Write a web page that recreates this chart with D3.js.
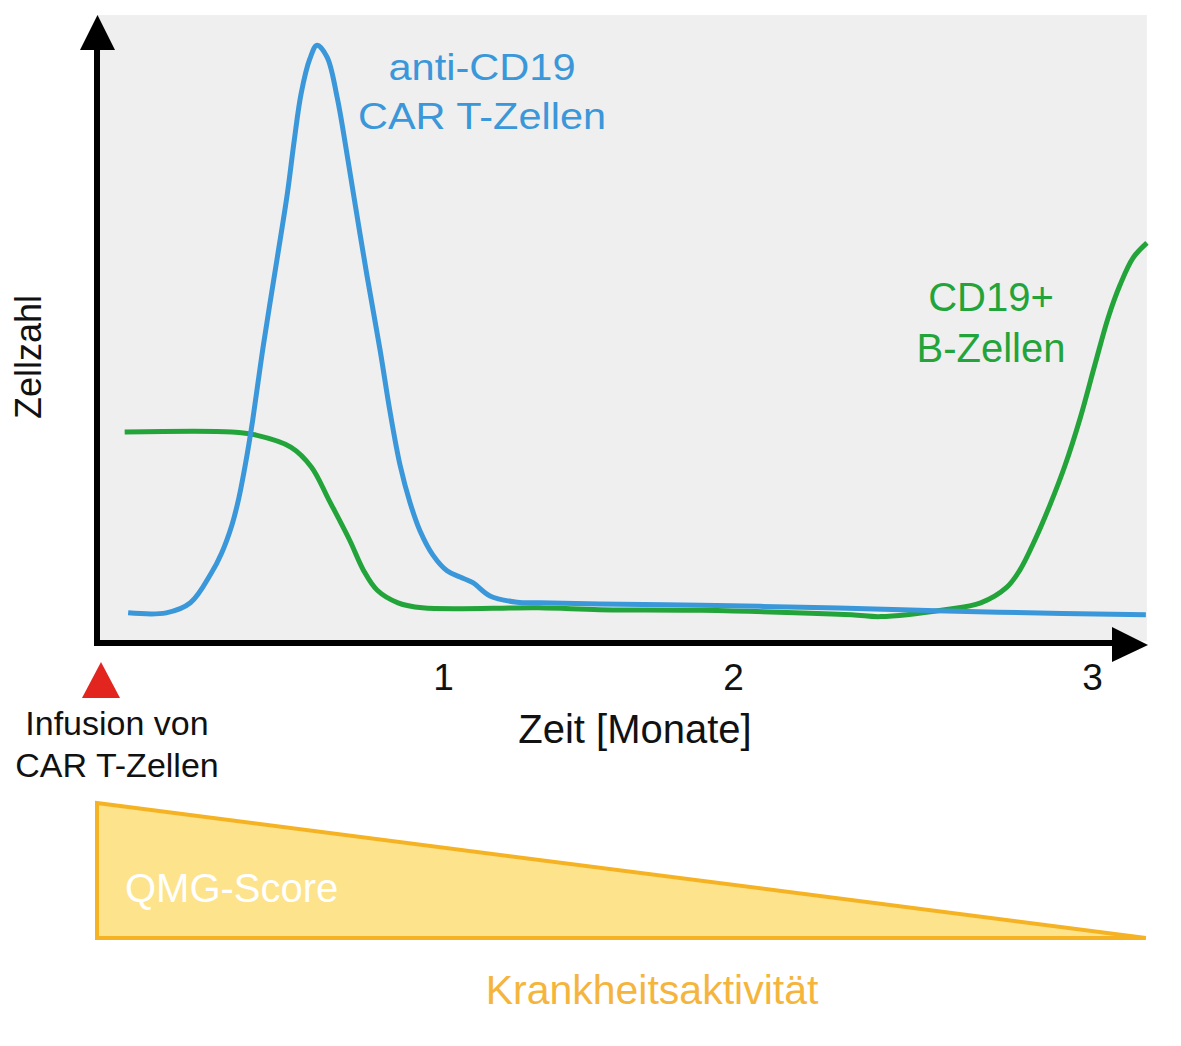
<!DOCTYPE html>
<html>
<head>
<meta charset="utf-8">
<script src="https://cdn.jsdelivr.net/npm/d3@7"></script>
<style>
  body { margin: 0; background: #fff; }
  text { font-family: "Liberation Sans", Arial, sans-serif; }
</style>
</head>
<body>
<div id="chart"></div>
<script>
// time (months) and relative cell counts
const carT_months = [0.09, 0.20, 0.27, 0.33, 0.36, 0.39, 0.41, 0.43, 0.45, 0.48, 0.52, 0.55, 0.57, 0.59, 0.615, 0.636,
                     0.665, 0.694, 0.723, 0.751, 0.78, 0.818, 0.847, 0.876, 0.905, 0.934, 0.971, 1.014, 1.059,
                     1.103, 1.162, 1.255, 1.334, 1.54, 1.89, 2.19, 2.47, 2.74, 3.15];
const carT_values = [4.8, 4.8, 6.4, 11.1, 14.3, 18.8, 23.1, 28.8, 35.5, 47.1, 61.0, 71.5, 80.0, 87.5, 93.0, 95.2,
                     93.3, 86.9, 77.7, 68.2, 58.6, 46.7, 36.8, 28.3, 22.3, 17.8, 14.0, 11.5, 10.5,
                     9.6, 7.5, 6.5, 6.4, 6.2, 6.0, 5.7, 5.3, 4.9, 4.5];

const bCell_months = [0.08, 0.39, 0.46, 0.56, 0.62, 0.67, 0.73, 0.77, 0.81, 0.87, 0.94, 1.33, 1.54, 1.89,
                      2.33, 2.41, 2.59, 2.69, 2.763, 2.799, 2.841, 2.883, 2.925, 2.967, 3.008, 3.045,
                      3.078, 3.114, 3.153];
const bCell_values = [33.6, 33.6, 33.1, 31.2, 28.0, 22.8, 16.4, 11.6, 8.4, 6.4, 5.6, 5.6, 5.3, 5.2,
                      4.5, 4.2, 5.3, 6.4, 8.9, 11.6, 16.4, 22.0, 28.3, 35.8, 44.3, 51.8,
                      57.0, 61.3, 63.7];

const monthTicks = [1, 2, 3];
const seriesLabels = {
  carT: ["anti-CD19", "CAR T-Zellen"],
  bCell: ["CD19+", "B-Zellen"]
};
const infusionLabel = ["Infusion von", "CAR T-Zellen"];
const xTitle = "Zeit [Monate]";
const yTitle = "Zellzahl";
const scoreLabel = "QMG-Score";
const activityLabel = "Krankheitsaktivität";
// QMG score falls from full to nothing over the time span
const score_months = [0, 3.15];
const score_values = [100, 0];

function main() {
    const width = 1181, height = 1046;
    const blue = "#3a97d9", green = "#23a43a";

    const svg = d3.select("#chart")
        .append("svg")
        .attr("width", width)
        .attr("height", height);

    // the month labels are not evenly spaced in the figure
    const x = d3.scaleLinear()
        .domain([0, 1, 2, 3])
        .range([97, 443, 733, 1092]);

    const y = d3.scaleLinear()
        .domain([0, 100])
        .range([643, 15]);

    // plot background
    svg.append("rect")
        .attr("x", x(0))
        .attr("y", y(100))
        .attr("width", x(3.153) - x(0))
        .attr("height", y(0) - y(100) - 2)
        .attr("fill", "#efefef");

    const line = d3.line()
        .x(d => x(d[0]))
        .y(d => y(d[1]))
        .curve(d3.curveCatmullRom.alpha(0.5));

    const carT = d3.zip(carT_months, carT_values);
    const bCell = d3.zip(bCell_months, bCell_values);

    svg.append("path")
        .datum(bCell)
        .attr("d", line)
        .attr("fill", "none")
        .attr("stroke", green)
        .attr("stroke-width", 5);

    svg.append("path")
        .datum(carT)
        .attr("d", line)
        .attr("fill", "none")
        .attr("stroke", blue)
        .attr("stroke-width", 5);

    // axes with arrow heads
    svg.append("line")
        .attr("x1", x(0)).attr("y1", y(0) + 3)
        .attr("x2", x(0)).attr("y2", 50)
        .attr("stroke", "#000").attr("stroke-width", 6);
    svg.append("path")
        .attr("d", `M${x(0) - 17},50 L${x(0) + 18},50 L${x(0) + 0.5},15 Z`)
        .attr("fill", "#000");

    svg.append("line")
        .attr("x1", x(0) - 3).attr("y1", y(0))
        .attr("x2", 1114).attr("y2", y(0))
        .attr("stroke", "#000").attr("stroke-width", 6);
    svg.append("path")
        .attr("d", `M1112,${y(0) - 16} L1112,${y(0) + 19} L1148,${y(0) + 2} Z`)
        .attr("fill", "#000");

    const xAxis = svg.append("g")
        .attr("transform", `translate(0,${y(0)})`)
        .call(d3.axisBottom(x).tickValues(monthTicks).tickSize(0).tickFormat(d3.format("d")));
    xAxis.select(".domain").remove();
    xAxis.selectAll("text")
        .attr("y", 47)
        .attr("dy", 0)
        .attr("fill", "#111")
        .attr("font-size", 37)
        .attr("font-family", "Liberation Sans, Arial, sans-serif");

    // axis titles
    svg.append("text")
        .attr("x", 635)
        .attr("y", 743)
        .attr("text-anchor", "middle")
        .attr("font-size", 40)
        .attr("fill", "#111")
        .text(xTitle);

    svg.append("text")
        .attr("transform", "translate(41,357) rotate(-90)")
        .attr("text-anchor", "middle")
        .attr("font-size", 36)
        .attr("fill", "#111")
        .text(yTitle);

    // series labels
    const carLbl = svg.append("text")
        .attr("text-anchor", "middle")
        .attr("font-size", 37)
        .attr("fill", blue);
    carLbl.selectAll("tspan")
        .data(seriesLabels.carT)
        .enter().append("tspan")
        .attr("x", 482)
        .attr("y", (d, i) => 80 + i * 49)
        .attr("textLength", (d, i) => i === 0 ? 187 : 248)
        .attr("lengthAdjust", "spacingAndGlyphs")
        .text(d => d);

    const bLbl = svg.append("text")
        .attr("text-anchor", "middle")
        .attr("font-size", 40)
        .attr("fill", green);
    bLbl.selectAll("tspan")
        .data(seriesLabels.bCell)
        .enter().append("tspan")
        .attr("x", 991)
        .attr("y", (d, i) => 311 + i * 51)
        .text(d => d);

    // infusion marker
    svg.append("path")
        .attr("d", `M${x(0) - 15},698 L${x(0) + 23},698 L${x(0) + 4},662 Z`)
        .attr("fill", "#e3251f");

    const infLbl = svg.append("text")
        .attr("text-anchor", "middle")
        .attr("font-size", 34)
        .attr("fill", "#111");
    infLbl.selectAll("tspan")
        .data(infusionLabel)
        .enter().append("tspan")
        .attr("x", 117)
        .attr("y", (d, i) => 735 + i * 42)
        .text(d => d);

    // disease activity wedge
    const s = d3.scaleLinear().domain([0, 100]).range([938, 803]);
    const wedge = d3.area()
        .x(d => x(d[0]))
        .y0(s(0))
        .y1(d => s(d[1]));
    svg.append("path")
        .datum(d3.zip(score_months, score_values))
        .attr("d", wedge)
        .attr("fill", "#fde38b")
        .attr("stroke", "#f5b323")
        .attr("stroke-width", 4)
        .attr("stroke-linejoin", "miter");

    svg.append("text")
        .attr("x", 125)
        .attr("y", 902)
        .attr("font-size", 40)
        .attr("fill", "#fff")
        .text(scoreLabel);

    svg.append("text")
        .attr("x", 652)
        .attr("y", 1004)
        .attr("text-anchor", "middle")
        .attr("font-size", 41)
        .attr("fill", "#f5b53c")
        .text(activityLabel);
}

main()
</script>
</body>
</html>
